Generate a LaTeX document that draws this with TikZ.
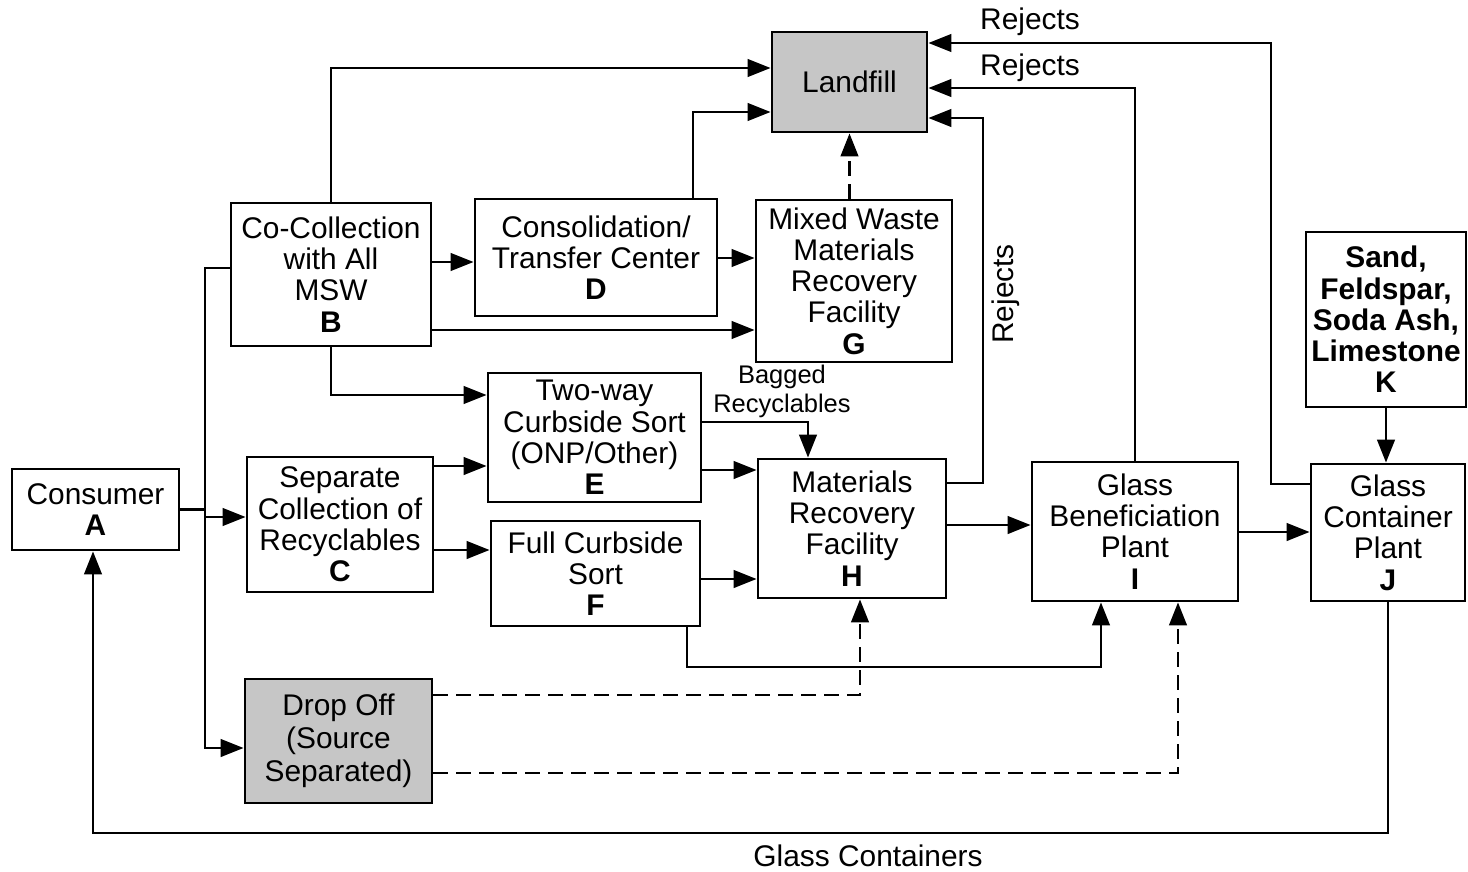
\documentclass[tikz,border=0pt]{standalone}
\usepackage{fontspec}
\setmainfont{Liberation Sans}
\usetikzlibrary{arrows.meta, positioning}
\tikzstyle{box} = [draw, line width=1.6pt, align=center, inner sep=0pt, font=\fontsize{17}{17.8}\selectfont]
\tikzstyle{shaded} = [box, fill=gray!45]
\tikzstyle{wire} = [line width=1.6pt]
\tikzstyle{arrow} = [wire, -{Triangle[length=4.6mm, width=3.5mm]}]
\tikzstyle{dasharrow} = [arrow, dash pattern=on 3mm off 1.6mm]
\tikzstyle{lbl} = [inner sep=0pt, font=\fontsize{17}{17.8}\selectfont]

\begin{document}
\begin{tikzpicture}[x=0.02cm, y=-0.02cm]
    \useasboundingbox (0,0) rectangle (1468,872);

    % Boxes (placed at pixel positions of the flow chart)
    \node[box, minimum width=3.34cm, minimum height=1.62cm] (consumer) at (95.5,509.5) {Consumer\\\textbf{A}};
    \node[box, minimum width=4.0cm, minimum height=2.86cm] (cocoll) at (331,274.5) {Co-Collection\\with All\\MSW\\\textbf{B}};
    \node[box, minimum width=4.84cm, minimum height=2.34cm] (transfer) at (596,257.5) {Consolidation/\\Transfer Center\\\textbf{D}};
    \node[box, minimum width=3.92cm, minimum height=3.24cm] (mwmrf) at (854,281) {Mixed Waste\\Materials\\Recovery\\Facility\\\textbf{G}};
    \node[shaded, minimum width=3.1cm, minimum height=2.0cm] (landfill) at (849.5,82) {Landfill};
    \node[box, minimum width=3.2cm, minimum height=3.5cm] (rawmat) at (1386,319.5) {\textbf{Sand,}\\\textbf{Feldspar,}\\\textbf{Soda Ash,}\\\textbf{Limestone}\\\textbf{K}};
    \node[box, minimum width=4.26cm, minimum height=2.58cm] (twoway) at (594.5,437.5) {Two-way\\Curbside Sort\\(ONP/Other)\\\textbf{E}};
    \node[box, minimum width=3.72cm, minimum height=2.7cm] (sepcoll) at (340,524.5) {Separate\\Collection of\\Recyclables\\\textbf{C}};
    \node[box, minimum width=4.18cm, minimum height=2.1cm] (fullsort) at (595.5,573.5) {Full Curbside\\Sort\\\textbf{F}};
    \node[box, minimum width=3.76cm, minimum height=2.78cm] (mrf) at (852,528.5) {Materials\\Recovery\\Facility\\\textbf{H}};
    \node[box, minimum width=4.12cm, minimum height=2.78cm] (benef) at (1135,531.5) {Glass\\Beneficiation\\Plant\\\textbf{I}};
    \node[box, minimum width=3.08cm, minimum height=2.74cm] (glassplant) at (1388,532.5) {Glass\\Container\\Plant\\\textbf{J}};
    \node[shaded, minimum width=3.74cm, minimum height=2.48cm, font=\fontsize{17}{18.8}\selectfont] (dropoff) at (338.5,741) {Drop Off\\(Source\\Separated)};

    % Consumer to the collection routes
    \coordinate (split) at (205,509.5);
    \draw[wire] (consumer) -- (split);
    \draw[wire] (split) |- (cocoll.west |- 0,268);
    \draw[arrow] (split) |- (sepcoll.west |- 0,517);
    \draw[arrow] (split) |- (dropoff.west |- 0,748);

    % Collection and processing flows
    \draw[arrow] (cocoll.north) |- (landfill.west |- 0,68);
    \draw[arrow] (cocoll.east |- 0,262) -- (transfer.west |- 0,262);
    \draw[arrow] (cocoll.east |- 0,330) -- (mwmrf.west |- 0,330);
    \draw[arrow] (cocoll.south) |- (twoway.west |- 0,395);
    \draw[arrow] (transfer.north -| 693,0) |- (landfill.west |- 0,112);
    \draw[arrow] (transfer.east |- 0,258) -- (mwmrf.west |- 0,258);
    \draw[dasharrow] (mwmrf.north -| landfill) -- (landfill.south);
    \draw[arrow] (twoway.east |- 0,422) -| (mrf.north -| 808,0);
    \draw[arrow] (twoway.east |- 0,470) -- (mrf.west |- 0,470);
    \draw[arrow] (sepcoll.east |- 0,466) -- (twoway.west |- 0,466);
    \draw[arrow] (sepcoll.east |- 0,550) -- (fullsort.west |- 0,550);
    \draw[arrow] (fullsort.east |- 0,579) -- (mrf.west |- 0,579);
    \draw[arrow] (mrf.east |- 0,525) -- (benef.west |- 0,525);
    \draw[arrow] (benef.east |- 0,532) -- (glassplant.west |- 0,532);
    \draw[arrow] (rawmat.south) -- (rawmat.south |- glassplant.north);
    \draw[arrow] (fullsort.south -| 687,0) |- (1101,667) -- (benef.south -| 1101,0);
    \draw[dasharrow] (dropoff.east |- 0,695) -| (mrf.south -| 860,0);
    \draw[dasharrow] (dropoff.east |- 0,773) -| (benef.south -| 1178,0);

    % Rejects back to the landfill
    \draw[arrow] (mrf.east |- 0,483) -| (983,118) -- (landfill.east |- 0,118);
    \draw[arrow] (benef.north) |- (landfill.east |- 0,88);
    \draw[arrow] (glassplant.west |- 0,484) -| (1271,43) -- (landfill.east |- 0,43);

    % Glass containers back to the consumer
    \draw[arrow] (glassplant.south) |- (93,833) -- (consumer.south -| 93,0);

    % Labels
    \node[lbl] (rej1) at (1030,22) {Rejects};
    \node[lbl] (rej2) at (1030,68) {Rejects};
    \node[lbl, rotate=90] (rej3) at (1006,294) {Rejects};
    \node[lbl, align=center, font=\fontsize{14.5}{16.5}\selectfont] (bagged) at (782,391) {Bagged\\Recyclables};
    \node[lbl] (glasslbl) at (868,856) {Glass Containers};
\end{tikzpicture}
\end{document}
